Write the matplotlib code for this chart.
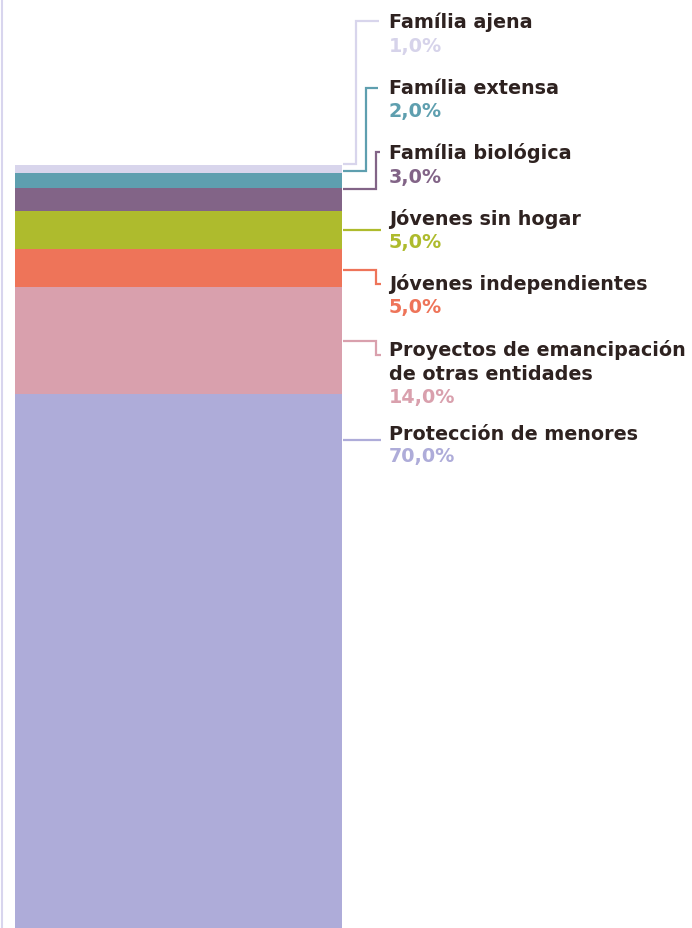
import matplotlib
matplotlib.use("Agg")
import matplotlib.pyplot as plt
import numpy as np

# ---- data ----
categories = ["Protección de menores", "Proyectos de emancipación\nde otras entidades",
              "Jóvenes independientes", "Jóvenes sin hogar", "Família biológica",
              "Família extensa", "Família ajena"]
values = [70.0, 14.0, 5.0, 5.0, 3.0, 2.0, 1.0]
value_labels = ["70,0%", "14,0%", "5,0%", "5,0%", "3,0%", "2,0%", "1,0%"]
colors = ["#aeacd9", "#d9a0ad", "#ee7459", "#aebb2d", "#826487", "#5e9faf", "#d8d5ec"]
text_colors = ["#aeacd9", "#d9a0ad", "#ee7459", "#aebb2d", "#826487", "#5e9faf", "#d6d3ea"]

W, H = 692, 929
fig = plt.figure(figsize=(W / 100, H / 100), dpi=100)

# bar axes
bar_left, bar_right, bar_top = 15, 342, 166
ax = fig.add_axes([bar_left / W, 0, (bar_right - bar_left) / W, (H - bar_top) / H])
bottom = 0.0
for v, c in zip(values, colors):
    ax.bar(0.5, v, width=1.0, bottom=bottom, color=c, linewidth=0)
    bottom += v
ax.set_xlim(0, 1)
ax.set_ylim(0, 100)
ax.axis("off")

# overlay axes in pixel coordinates
ov = fig.add_axes([0, 0, 1, 1])
ov.set_xlim(0, W)
ov.set_ylim(H, 0)
ov.axis("off")
ov.patch.set_alpha(0)

# left thin line
ov.plot([1.5, 1.5], [0, H], color="#d8d5ee", lw=1.5, solid_capstyle="butt")

# connectors (pixel layout), order matches categories
connectors = [
    [(343, 441), (381, 441)],
    [(343, 342), (376, 342), (376, 356), (381, 356)],
    [(343, 271), (376, 271), (376, 285), (381, 285)],
    [(343, 231), (381, 231)],
    [(343, 190), (376, 190), (376, 153), (380, 153)],
    [(343, 172), (366, 172), (366, 89), (378, 89)],
    [(343, 165), (356, 165), (356, 22), (379, 22)],
]
name_base = [440, 356, 290, 225, 159, 94, 28]
pct_base = [462, 403, 313, 248, 183, 117, 52]
line_gap = 24

font = "DejaVu Sans"
for i in range(len(categories)):
    pts = np.array(connectors[i])
    ov.plot(pts[:, 0], pts[:, 1], color=colors[i], lw=1.6, solid_capstyle="butt",
            solid_joinstyle="miter")
    for k, line in enumerate(categories[i].split("\n")):
        ov.text(389, name_base[i] + k * line_gap, line, ha="left", va="baseline",
                fontsize=13.8, fontweight="bold", color="#2e2220", family=font)
    ov.text(389, pct_base[i], value_labels[i], ha="left", va="baseline",
            fontsize=13.8, fontweight="bold", color=text_colors[i], family=font)

fig.savefig("out.png", dpi=100)
